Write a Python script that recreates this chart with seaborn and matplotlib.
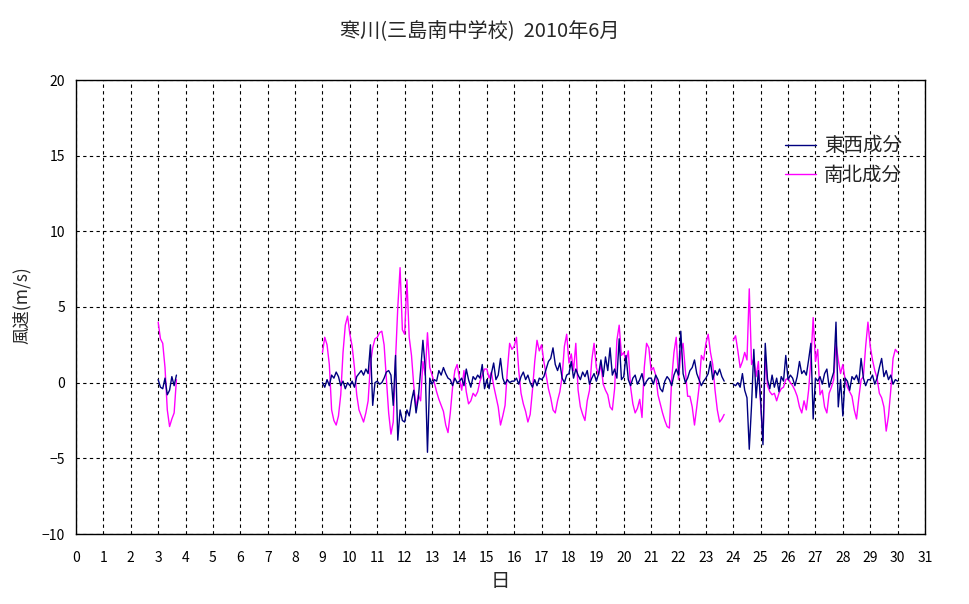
import numpy as np
import pandas as pd
import matplotlib
matplotlib.use("Agg")
import matplotlib.pyplot as plt
import seaborn as sns
from matplotlib.lines import Line2D

# 2-hourly wind components (m/s), three recorded stretches in June 2010
step_days = 2 / 24
seg_starts = [3.0, 9.0, 24.0]

# 南北成分 (north-south)
ns_seg1 = [4.0, 2.9, 2.6, 1.0, -1.8, -2.9, -2.4, -2.0, 0.2]
ns_seg2 = [
    2.0, 3.0, 2.5, 1.2, -1.8, -2.5, -2.8, -2.2, -0.8, 2.0, 3.8, 4.4,
    3.2, 2.4, 1.0, -0.8, -1.8, -2.2, -2.6, -2.0, -1.2, 1.2, 2.3, 2.9,
    3.0, 3.3, 3.4, 2.5, 0.2, -2.0, -3.4, -2.6, 1.5, 5.0, 7.6, 3.5,
    3.2, 6.8, 3.0, 1.8, -0.2, -1.6, -0.8, -1.2, 1.4, 0.5, 3.3, 1.0,
    0.5, 0.0, -0.6, -1.1, -1.5, -1.9, -2.8, -3.3, -2.0, -0.3, 0.8, 1.2,
    0.3, -0.5, 0.8, -0.6, -1.4, -1.2, -0.7, -0.9, -0.6, 0.1, 0.5, 0.9,
    0.9, 0.3, 0.7, -0.2, -0.9, -1.6, -2.8, -2.2, -1.5, 0.8, 2.6, 2.2,
    2.4, 3.0, 0.8, -0.7, -1.4, -1.9, -2.6, -2.1, -0.5, 1.4, 2.8, 2.1,
    2.5, 1.4, 0.5, -0.4, -1.0, -1.8, -2.0, -1.2, -0.6, 0.4, 2.4, 3.2,
    1.3, 1.9, 0.8, 2.6, -0.5, -1.6, -2.1, -2.5, -1.2, -0.5, 1.5, 2.6,
    1.0, 0.5, 1.2, -0.1, -0.5, -0.8, -1.6, -1.8, -0.4, 2.8, 3.8, 1.8,
    2.0, 1.4, 2.1, -0.3, -1.4, -2.0, -1.7, -1.1, -2.3, 1.0, 2.6, 2.3,
    0.8, 1.0, 0.5, -0.8, -1.4, -2.0, -2.5, -2.9, -3.0, 0.2, 2.0, 3.0,
    0.2, 2.0, 2.6, 0.8, -0.9, -0.9, -1.6, -2.8, -1.6, -0.3, 1.8, 1.5,
    2.6, 3.2, 2.0, 1.2, -0.5, -1.8, -2.6, -2.4, -2.1,
]
ns_seg3 = [
    2.8, 3.1, 2.1, 1.0, 1.4, 2.0, 1.5, 6.2, 1.2, 1.6, 0.4, 1.4,
    -1.5, -3.8, 1.8, -0.2, -0.6, -0.8, -0.7, -1.2, -0.7, -0.4, -0.3, 0.2,
    0.3, 0.0, -0.2, -0.5, -0.9, -1.6, -2.0, -1.2, -1.8, -0.5, 1.5, 4.3,
    1.4, 2.2, -0.8, -0.5, -1.6, -2.0, -0.7, -0.3, 0.2, 2.6, 1.5, 0.6,
    1.2, 0.2, -0.3, -0.6, -0.9, -1.8, -2.4, -1.0, 0.2, 0.4, 2.4, 4.0,
    2.4, 1.5, 0.8, 0.3, -0.7, -1.0, -1.6, -3.2, -2.2, -0.5, 1.6, 2.2,
    2.0,
]

# 東西成分 (east-west)
ew_seg1 = [0.2, -0.3, -0.4, 0.3, -0.8, -0.5, 0.4, -0.2, 0.5]
ew_seg2 = [
    0.0, -0.3, 0.2, -0.2, 0.5, 0.3, 0.7, 0.4, -0.2, 0.1, -0.4, 0.0,
    -0.2, 0.1, -0.3, 0.4, 0.6, 0.8, 0.5, 0.9, 0.6, 2.5, -1.5, 0.0,
    0.1, -0.1, 0.0, 0.3, 0.7, 0.8, 0.5, -1.5, 1.8, -3.8, -1.8, -2.5,
    -2.6, -1.8, -2.2, -1.2, -0.5, -2.0, -1.0, 0.8, 2.8, 1.0, -4.6, 0.3,
    -0.1, 0.2, 0.1, 0.8, 0.5, 1.0, 0.6, 0.3, 0.2, -0.2, 0.3, 0.0,
    0.1, 0.3, -0.2, 0.9, 0.2, -0.3, 0.4, 0.2, 0.5, 0.3, 1.2, -0.4,
    0.2, -0.4, 0.6, 1.3, 0.2, 0.5, 1.6, 0.3, -0.1, 0.2, 0.0, 0.1,
    0.1, 0.3, -0.1, 0.4, 0.7, 0.2, 0.5, 0.0, -0.3, 0.2, -0.2, 0.3,
    0.2, 0.4, 0.9, 1.4, 1.6, 2.3, 1.2, 0.8, 1.3, 0.3, 0.0, 0.5,
    0.6, 1.4, 0.3, 0.9, 0.5, 0.2, 0.7, 0.4, 0.8, -0.1, 0.3, 0.6,
    0.1, 0.6, 1.5, 0.4, 1.7, 0.8, 2.3, 0.5, 0.9, 0.3, 2.9, 0.2,
    0.4, 1.8, 0.2, -0.2, 0.3, 0.5, -0.1, 0.2, 0.6, -0.2, 0.1, 0.3,
    0.3, -0.1, 0.5, 0.2, -0.4, -0.6, 0.1, 0.4, 0.2, -0.2, 0.5, 0.9,
    0.5, 3.4, 0.6, 0.0, 0.3, 0.8, 1.0, 1.5, 0.6, 0.2, -0.2, 0.1,
    0.3, 0.6, 1.4, 0.2, 0.8, 0.5, 0.9, 0.4, 0.1,
]
ew_seg3 = [
    -0.1, -0.2, 0.0, -0.3, 0.6, -0.5, -1.0, -4.4, -1.5, 2.2, -1.0, 0.8,
    -1.2, -4.1, 2.6, 0.2, -0.4, 0.5, -0.3, 0.3, -0.6, 0.4, 0.1, 1.8,
    0.2, 0.5, 0.3, -0.2, 0.4, 1.4, 0.6, 0.8, 0.5, 1.5, 2.6, -2.4,
    0.3, 0.1, 0.4, -0.1, 0.6, 0.9, -0.3, 0.2, 0.7, 4.0, -1.6, 0.2,
    -2.2, 0.3, 0.1, -0.5, 0.4, 0.2, 0.5, 0.0, 1.6, 0.3, -0.2, 0.2,
    0.2, 0.5, -0.1, 0.3, 1.0, 1.6, 0.4, 0.8, 0.2, 0.5, -0.1, 0.2,
    0.1,
]

ns_segs = [ns_seg1, ns_seg2, ns_seg3]
ew_segs = [ew_seg1, ew_seg2, ew_seg3]

x_ticks = list(range(0, 32))
y_ticks = list(range(-10, 21, 5))

frames = []
for seg, (start, ns, ew) in enumerate(zip(seg_starts, ns_segs, ew_segs)):
    day = start + np.arange(len(ns)) * step_days
    frames.append(pd.DataFrame({"day": day, "speed": ns, "comp": "南北成分", "seg": seg}))
    frames.append(pd.DataFrame({"day": day, "speed": ew, "comp": "東西成分", "seg": seg}))
df = pd.concat(frames, ignore_index=True)

colors = {"東西成分": "#000080", "南北成分": "#FF00FF"}

sns.set_theme(style="white")
plt.rcParams["font.family"] = ["Noto Sans CJK JP", "DejaVu Sans"]
plt.rcParams["axes.unicode_minus"] = True

fig = plt.figure(figsize=(9.7, 6.04), dpi=100)
ax = fig.add_axes([76 / 970, 70 / 604, 849 / 970, 454 / 604])

# magenta first so the navy series sits on top
sns.lineplot(data=df, x="day", y="speed", hue="comp", units="seg",
             estimator=None, sort=False, hue_order=["南北成分", "東西成分"],
             palette=colors, linewidth=1.0, legend=False, ax=ax)

ax.set_xlim(0, 31)
ax.set_ylim(-10, 20)
ax.set_xticks(x_ticks)
ax.set_yticks(y_ticks)
ax.set_xlabel("")
ax.set_ylabel("")
ax.grid(True, color="black", linestyle=(0, (3, 3)), linewidth=0.8)
for sp in ax.spines.values():
    sp.set_color("black")
    sp.set_linewidth(1.0)
ax.tick_params(axis="x", length=0, pad=12, labelsize=10, colors="black")
ax.tick_params(axis="y", length=0, pad=8, labelsize=10, colors="black")

handles = [Line2D([], [], color=colors[k], lw=1.0) for k in ["東西成分", "南北成分"]]
ax.legend(handles, ["東西成分", "南北成分"], loc="upper left",
          bbox_to_anchor=(0.835, 0.878), frameon=False, fontsize=14,
          handlelength=1.6, handletextpad=0.4, labelspacing=0.45,
          borderpad=0, borderaxespad=0)

fig.text(0.495, 1 - 32 / 604, "寒川(三島南中学校)  2010年6月", ha="center", va="center", fontsize=14.5)
fig.text(22 / 970, 1 - 305 / 604, "風速(m/s)", ha="center", va="center", rotation=90, fontsize=12.5)
fig.text(500 / 970, 1 - 581 / 604, "日", ha="center", va="center", fontsize=14)

fig.savefig("out.png", dpi=100)
